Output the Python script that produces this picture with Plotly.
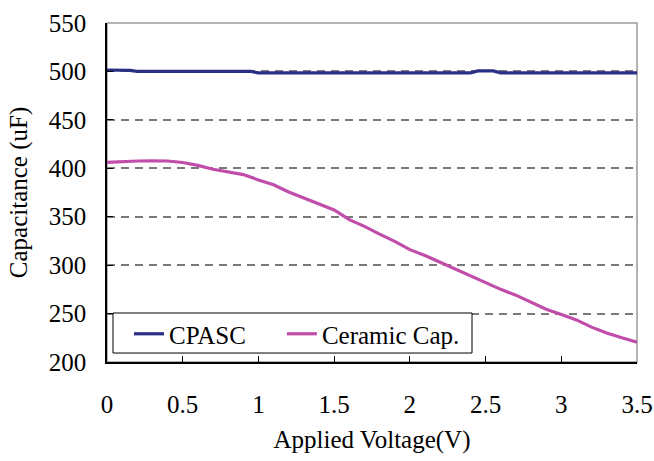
import plotly.graph_objects as go

# Measured capacitance versus applied DC bias
cpasc_v = [0.0, 0.1, 0.15, 0.2, 0.3, 0.4, 0.5, 0.6, 0.7, 0.8, 0.9, 0.95, 1.0,
           1.1, 1.2, 1.3, 1.4, 1.5, 1.6, 1.7, 1.8, 1.9, 2.0, 2.1, 2.2, 2.3,
           2.4, 2.45, 2.55, 2.6, 2.7, 2.8, 2.9, 3.0, 3.1, 3.2, 3.3, 3.4, 3.5]
cpasc_c = [501.5, 501.5, 501.0, 500.0, 500.0, 500.0, 500.0, 500.0, 500.0, 500.0,
           500.0, 500.0, 498.5, 498.5, 498.5, 498.5, 498.5, 498.5, 498.5, 498.5,
           498.5, 498.5, 498.5, 498.5, 498.5, 498.5, 498.5, 500.5, 500.5, 498.5,
           498.5, 498.5, 498.5, 498.5, 498.5, 498.5, 498.5, 498.5, 498.5]

ceramic_v = [0.0, 0.1, 0.2, 0.3, 0.4, 0.5, 0.6, 0.7, 0.8, 0.9, 1.0, 1.1, 1.2,
             1.3, 1.4, 1.5, 1.6, 1.7, 1.8, 1.9, 2.0, 2.1, 2.2, 2.3, 2.4, 2.5,
             2.6, 2.7, 2.8, 2.9, 3.0, 3.1, 3.2, 3.3, 3.4, 3.5]
ceramic_c = [406.0, 407.0, 407.5, 407.8, 407.5, 406.0, 403.0, 399.0, 396.0,
             393.5, 388.0, 383.0, 375.5, 369.5, 363.0, 357.0, 347.0, 340.0,
             332.0, 324.5, 316.0, 310.0, 303.0, 296.0, 289.0, 282.0, 275.0,
             269.0, 262.0, 254.5, 249.0, 243.5, 236.0, 230.0, 225.0, 220.5]

x_ticks = [0, 0.5, 1, 1.5, 2, 2.5, 3, 3.5]
x_tick_labels = ["0", "0.5", "1", "1.5", "2", "2.5", "3", "3.5"]
y_ticks = [200, 250, 300, 350, 400, 450, 500, 550]

FONT = "Liberation Serif"
SIZE = 25

fig = go.Figure()
fig.add_trace(go.Scatter(x=cpasc_v, y=cpasc_c, mode="lines", name="CPASC",
                         line=dict(color="#2B2E85", width=3.2), legend="legend"))
fig.add_trace(go.Scatter(x=ceramic_v, y=ceramic_c, mode="lines", name="Ceramic Cap.",
                         line=dict(color="#C04DAA", width=3.2), legend="legend2"))

# grey frame around the plotting area (left/bottom axes drawn in black on top)
fig.add_shape(type="rect", xref="paper", yref="paper", x0=0, y0=0, x1=1, y1=1,
              line=dict(color="#9A9A9A", width=1.5), layer="below")
# shared box behind the two legend entries
fig.add_shape(type="rect", xref="paper", yref="paper",
              x0=0.0113, y0=0.0265, x1=0.6887, y1=0.1445,
              line=dict(color="black", width=1), fillcolor="white", layer="above")

legend_common = dict(orientation="h", yanchor="middle", y=0.0825,
                     bgcolor="rgba(0,0,0,0)", borderwidth=0,
                     font=dict(family=FONT, size=SIZE, color="black"),
                     itemwidth=30)

fig.update_layout(
    width=654, height=461,
    margin=dict(l=107, r=17, t=23, b=99),
    paper_bgcolor="white", plot_bgcolor="white",
    font=dict(family=FONT, size=SIZE, color="black"),
    showlegend=True,
    legend=dict(x=0.0415, xanchor="left", **legend_common),
    legend2=dict(x=0.330, xanchor="left", **legend_common),
    xaxis=dict(range=[0, 3.5], tickvals=x_ticks, ticktext=x_tick_labels,
               showgrid=False, zeroline=False, automargin=False,
               showline=True, linecolor="black", linewidth=1.5,
               ticks="inside", ticklen=6, tickcolor="black", tickwidth=1,
               ticklabelstandoff=19,
               title=dict(text="Applied Voltage(V)", standoff=14,
                          font=dict(family=FONT, size=SIZE))),
    yaxis=dict(range=[200, 550], tickvals=y_ticks,
               showgrid=True, gridcolor="#7A7A7A", gridwidth=1.5, griddash="8px,6px",
               zeroline=False, automargin=False,
               showline=True, linecolor="black", linewidth=1.5,
               ticks="inside", ticklen=6, tickcolor="black", tickwidth=1,
               ticklabelstandoff=14,
               title=dict(text="Capacitance (uF)", standoff=14,
                          font=dict(family=FONT, size=SIZE))),
)

fig.write_html("out.html")
